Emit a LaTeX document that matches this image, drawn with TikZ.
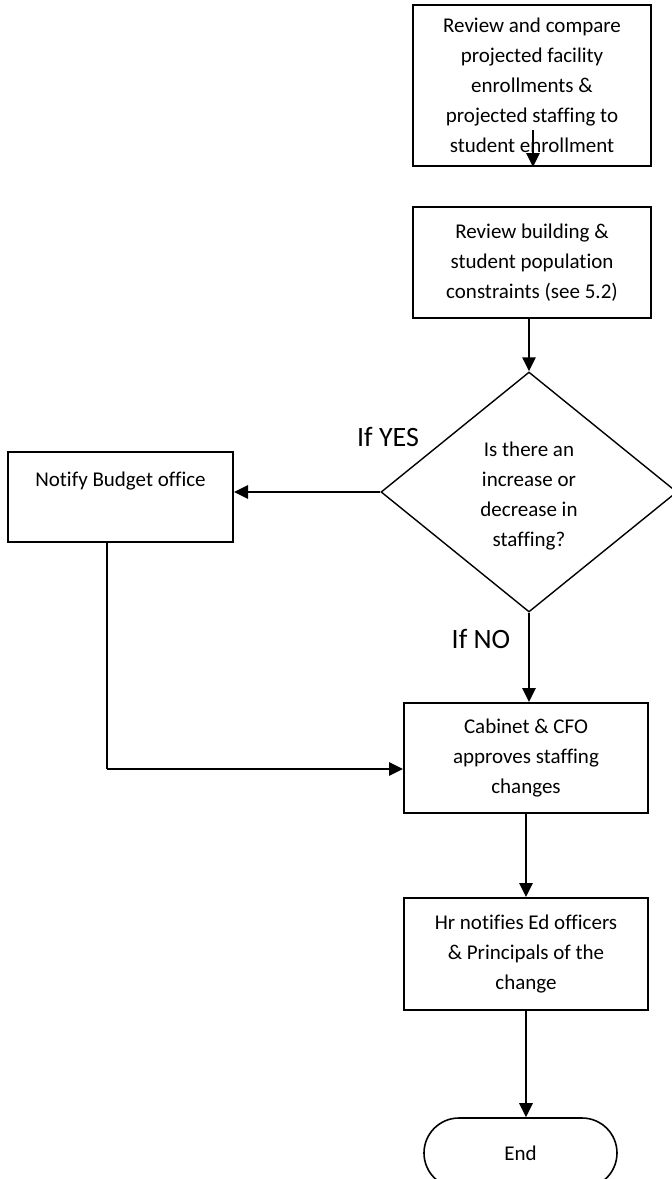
\documentclass[tikz,border=0pt]{standalone}
\usepackage{fontspec}
\setmainfont[Ligatures=NoCommon]{Carlito}
\usetikzlibrary{shapes.geometric,arrows.meta}

\begin{document}
\begin{tikzpicture}[%
    x=1pt, y=-1pt,
    font=\fontsize{21}{30}\selectfont,
    stepbox/.style={
        draw=black,
        line width=2pt,
        align=center,
        inner sep=0pt
    },
    decision/.style={
        diamond,
        draw=black,
        line width=1.4pt,
        align=center,
        inner sep=0pt,
        minimum width=296pt,
        minimum height=240pt
    },
    terminal/.style={
        draw=black,
        line width=1.6pt,
        rounded corners=35pt,
        minimum width=193pt,
        minimum height=70pt
    },
    flow/.style={line width=2.8pt, -{Triangle[length=14pt,width=13pt]}},
    answer/.style={font=\fontsize{28}{30}\selectfont}
]
    % The page; the diamond and the end shape run over its edges.
    \clip (0,0) rectangle (672,1179);

    % Steps down the right side.
    \node[stepbox, minimum width=238pt, minimum height=161pt] (review) at (532,85.5)
        {Review and compare\\projected facility\\enrollments \&\\projected staffing to\\student enrollment};
    \node[stepbox, minimum width=238pt, minimum height=111pt] (bldg) at (532,262.5)
        {Review building \&\\student population\\constraints (see 5.2)};
    \node[decision] (dec) at (529,492)
        {\\[-8pt]Is there an\\increase or\\decrease in\\staffing?};
    \node[stepbox, minimum width=244pt, minimum height=110pt] (cab) at (526,758)
        {Cabinet \& CFO\\approves staffing\\changes};
    \node[stepbox, minimum width=244pt, minimum height=112pt] (hr) at (526,954)
        {Hr notifies Ed officers\\\& Principals of the\\change};
    \node[terminal] (end) at (520.5,1153) {End};

    % Side branch.
    \node[stepbox, minimum width=225pt, minimum height=90pt] (budget) at (120.5,497)
        {Notify Budget office\hspace{8pt}\\[6pt]\mbox{}};

    % Answers.
    \node[answer] (yes) at (388,437) {If YES};
    \node[answer] (no) at (481,639) {If NO};

    % Points the connectors pass through.
    \coordinate (revtip) at (533,130);
    \coordinate (bend) at (107,769);

    % Connectors.
    \draw[flow] (revtip) -- (revtip |- review.south);
    \draw[flow] (bldg.south -| dec.north) -- (dec.north);
    \draw[flow] (dec.west) -- (dec.west -| budget.east);
    \draw[flow] (dec.south) -- (dec.south |- cab.north);
    \draw[line width=2.8pt] (budget.south -| bend) -- (bend);
    \draw[flow] (bend) -- (bend -| cab.west);
    \draw[flow] (cab.south) -- (hr.north);
    \draw[flow] (hr.south) -- (hr.south |- end.north);
\end{tikzpicture}
\end{document}
